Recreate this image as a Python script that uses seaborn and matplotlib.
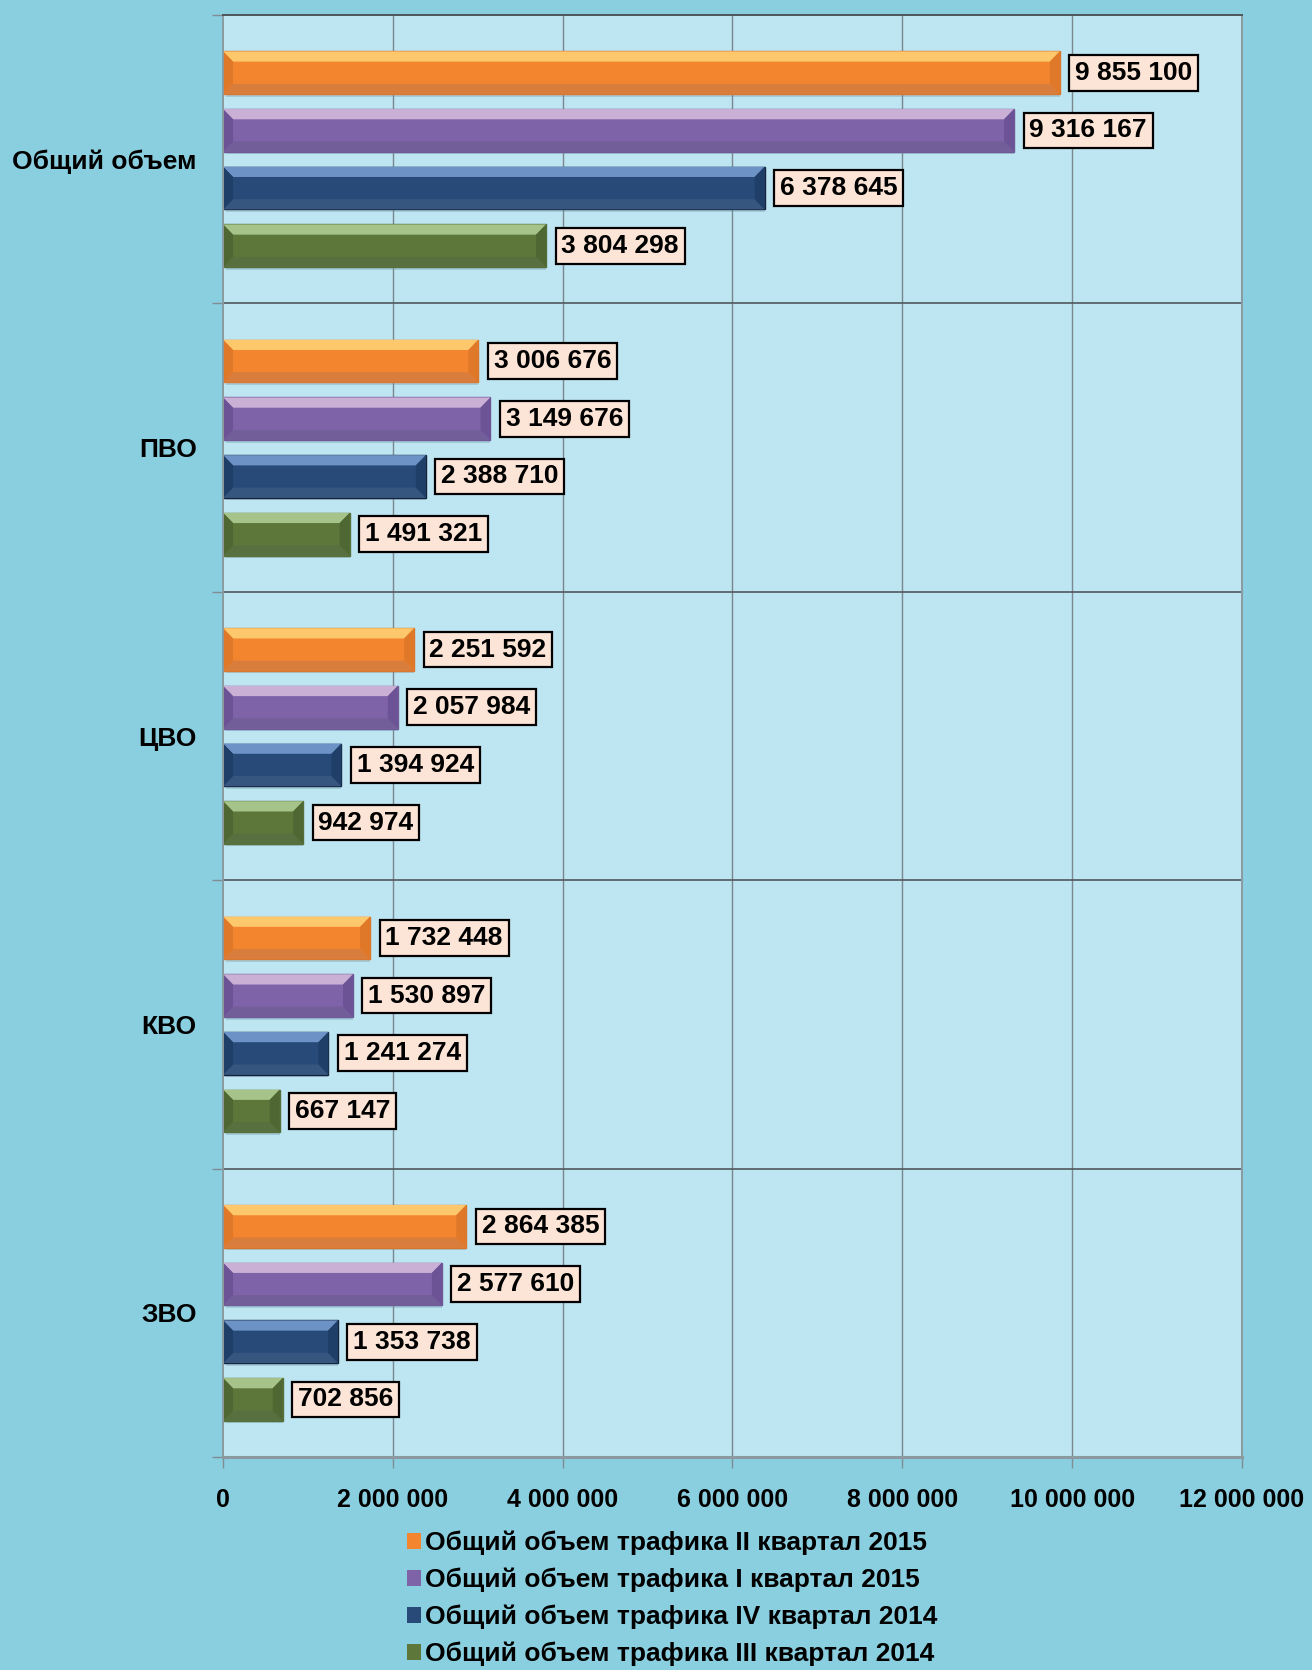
import matplotlib
matplotlib.use("Agg")
import matplotlib.pyplot as plt
from matplotlib.patches import Polygon
from matplotlib.ticker import FuncFormatter, FixedLocator
import seaborn as sns
import pandas as pd

# Regions (rows) and the four reporting periods (hue)
regions = ["Общий объем", "ПВО", "ЦВО", "КВО", "ЗВО"]
periods = [
    "Общий объем трафика II квартал 2015",
    "Общий объем трафика I квартал 2015",
    "Общий объем трафика IV квартал 2014",
    "Общий объем трафика III квартал 2014",
]
q2_2015 = [9855100, 3006676, 2251592, 1732448, 2864385]
q1_2015 = [9316167, 3149676, 2057984, 1530897, 2577610]
q4_2014 = [6378645, 2388710, 1394924, 1241274, 1353738]
q3_2014 = [3804298, 1491321, 942974, 667147, 702856]
x_ticks = [0, 2000000, 4000000, 6000000, 8000000, 10000000, 12000000]

series = [q2_2015, q1_2015, q4_2014, q3_2014]
rows = []
for period, vals in zip(periods, series):
    for reg, v in zip(regions, vals):
        rows.append({"region": reg, "period": period, "value": v})
df = pd.DataFrame(rows)

# bevel shades: main, top light, bottom dark, sides, outline
shades = [
    ("#F3852F", "#FDC76B", "#D97D3C", "#E0782A", "#D9772E"),
    ("#7F63A8", "#CBB0D6", "#725E98", "#6C5396", "#6F5A96"),
    ("#274A79", "#6D93C6", "#36557F", "#1F3F68", "#14233A"),
    ("#5D7639", "#A6C48A", "#58703F", "#4F6732", "#55703A"),
]
palette = {p: s[0] for p, s in zip(periods, shades)}

outer_bg = "#8ACFE0"
plot_bg = "#BEE5F2"

sns.set_theme(style="white")
plt.rcParams["font.family"] = ["Liberation Sans", "DejaVu Sans"]
plt.rcParams["font.weight"] = "bold"
plt.rcParams["text.color"] = "black"
plt.rcParams["xtick.color"] = "black"
plt.rcParams["ytick.color"] = "black"
plt.rcParams["xtick.labelcolor"] = "black"
plt.rcParams["ytick.labelcolor"] = "black"

fig = plt.figure(figsize=(13.12, 16.70), dpi=100, facecolor=outer_bg)
ax = fig.add_axes([0.170, 0.1275, 0.7766, 0.8635])
ax.set_facecolor(plot_bg)

sns.barplot(
    data=df, y="region", x="value", hue="period", orient="h",
    hue_order=periods, order=regions, palette=palette,
    width=0.8, gap=0.26, saturation=1, errorbar=None, ax=ax,
    linewidth=0,
)

ax.set_xlim(0, 12000000)
ax.set_ylim(4.5, -0.5)

# vertical gridlines
for xv in x_ticks[1:-1]:
    ax.axvline(xv, color="#7A878C", lw=1.0, zorder=0.5)
# separators between region bands
for yv in [0.5, 1.5, 2.5, 3.5]:
    ax.axhline(yv, color="#50585C", lw=1.2, zorder=0.6)

# bevel overlay for every bar, taken from the bar geometry
px_per_x = (0.7766 * 1312) / 12000000
dx_data = 10 / px_per_x
for cont, sh in zip(ax.containers, shades):
    main, top, bot, side, edge = sh
    for rect in cont:
        x0 = rect.get_x()
        w = rect.get_width()
        y0 = rect.get_y()
        h = rect.get_height()
        x1 = x0 + w
        yt, yb = y0, y0 + h
        dy = h * 0.24
        dx = min(dx_data, w / 2)
        rect.set_zorder(2)
        rect.set_edgecolor(edge)
        rect.set_linewidth(1.0)
        polys = [
            ([(x0, yt), (x1, yt), (x1 - dx, yt + dy), (x0 + dx, yt + dy)], top),
            ([(x0, yb), (x1, yb), (x1 - dx, yb - dy), (x0 + dx, yb - dy)], bot),
            ([(x0, yt), (x0 + dx, yt + dy), (x0 + dx, yb - dy), (x0, yb)], side),
            ([(x1, yt), (x1 - dx, yt + dy), (x1 - dx, yb - dy), (x1, yb)], side),
        ]
        for pts, col in polys:
            ax.add_patch(Polygon(pts, closed=True, facecolor=col,
                                 edgecolor="none", zorder=2.1))
        # soft shadow under the bar
        ax.add_patch(Polygon([(x0 + dx * 0.3, yb), (x1, yb), (x1, yb + h * 0.06),
                              (x0 + dx * 0.3, yb + h * 0.06)], closed=True,
                             facecolor="#6F9AA8", alpha=0.35, edgecolor="none",
                             zorder=1.9))
        ax.annotate(
            f"{int(rect.get_width()):,}".replace(",", " "),
            xy=(x1, y0 + h / 2), xytext=(11, 0), textcoords="offset points",
            ha="left", va="center", fontsize=19, fontweight="bold",
            color="black", zorder=5,
            bbox=dict(boxstyle="square,pad=0.22", fc="#FCE5D6", ec="black", lw=1.6),
        )

# axes styling
ax.set_xlabel("")
ax.set_ylabel("")
ax.xaxis.set_major_locator(FixedLocator(x_ticks))
ax.xaxis.set_major_formatter(FuncFormatter(lambda v, p: f"{int(v):,}".replace(",", " ")))
ax.tick_params(axis="x", length=8, width=1, color="#7F8C90", pad=14,
               labelsize=18, direction="out", bottom=True, labelcolor="black")
for lab in ax.get_xticklabels():
    lab.set_fontweight("bold")

ax.set_yticks(range(len(regions)))
ax.set_yticklabels(regions, fontsize=19, fontweight="bold")
ax.tick_params(axis="y", length=0, pad=19, labelcolor="black")
ax.set_yticks([-0.5, 0.5, 1.5, 2.5, 3.5, 4.5], minor=True)
ax.tick_params(axis="y", which="minor", length=8, width=1, color="#7F8C90",
               direction="out", left=True)

for side, col, lw in [("top", "#4E5558", 1.4), ("right", "#8A9AA0", 1.4),
                      ("left", "#8A9AA0", 1.4), ("bottom", "#8A9AA0", 2.2)]:
    ax.spines[side].set_visible(True)
    ax.spines[side].set_color(col)
    ax.spines[side].set_linewidth(lw)

handles, labels = ax.get_legend_handles_labels()
if ax.legend_ is not None:
    ax.legend_.remove()
leg = fig.legend(
    handles, labels, loc="upper left", bbox_to_anchor=(0.300, 0.0915),
    frameon=False, fontsize=19, handlelength=0.55, handleheight=0.55,
    handletextpad=0.15, labelspacing=0.48, borderpad=0,
)
for t in leg.get_texts():
    t.set_fontweight("bold")
    t.set_color("black")

fig.savefig("out.png", dpi=100, facecolor=outer_bg)
